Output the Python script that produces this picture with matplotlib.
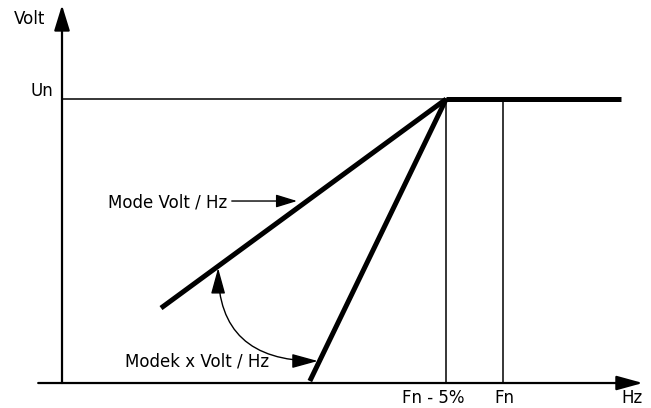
import matplotlib
matplotlib.use('Agg')
import numpy as np
from matplotlib import pyplot as plt

# schematic V/Hz curve, x in units of Fn, y in units of Un
Un = 1.0
Fn = 1.0
Fn_5 = 0.871
x_end = 1.268

# Mode Volt / Hz line
vhz_x = [0.2245, Fn_5]
vhz_y = [0.264, Un]
# Modek x Volt / Hz line
k_x = [0.562, Fn_5]
k_y = [0.007, Un]
# flat part above Fn-5%
flat_x = [Fn_5, x_end]
flat_y = [Un, Un]

tick_x = [0.841, 1.003, 1.292]
tick_lab = ['Fn - 5%', 'Fn', 'Hz']

fs = 12

fig = plt.figure(figsize=(6.51, 4.08), dpi=100)
ax = fig.add_axes([0, 0, 1, 1])
ax.set_xlim(-0.1406, 1.3356)
ax.set_ylim(-0.088, 1.349)
ax.axis('off')

# axes with arrows
ax.annotate('', xy=(1.317, 0), xytext=(-0.054, 0),
            arrowprops=dict(arrowstyle='-|>,head_length=0.8,head_width=0.22',
                            mutation_scale=20, lw=1.6, color='k', shrinkA=0, shrinkB=0))
ax.annotate('', xy=(0, 1.331), xytext=(0, 0),
            arrowprops=dict(arrowstyle='-|>,head_length=0.78,head_width=0.24',
                            mutation_scale=20, lw=1.6, color='k', shrinkA=0, shrinkB=0))

# thin guide lines
ax.plot([0, Fn_5], [Un, Un], color='k', lw=1.1)
ax.plot([Fn_5, Fn_5], [0, Un], color='k', lw=1.1)
ax.plot([Fn, Fn], [0, Un], color='k', lw=1.1)

# thick curves
ax.plot(vhz_x, vhz_y, color='k', lw=3.6, solid_capstyle='butt')
ax.plot(k_x, k_y, color='k', lw=3.6, solid_capstyle='butt')
ax.plot(flat_x, flat_y, color='k', lw=3.6, solid_capstyle='butt')

# labels
ax.text(-0.073, 1.283, 'Volt', fontsize=fs, ha='center', va='center')
ax.text(-0.045, 1.028, 'Un', fontsize=fs, ha='center', va='center')
for xv, lab in zip(tick_x, tick_lab):
    ax.text(xv, -0.053, lab, fontsize=fs, ha='center', va='center')

ax.text(0.104, 0.637, 'Mode Volt / Hz', fontsize=fs, ha='left', va='center')
ax.annotate('', xy=(0.533, 0.641), xytext=(0.385, 0.641),
            arrowprops=dict(arrowstyle='-|>,head_length=0.65,head_width=0.2',
                            mutation_scale=20, lw=1.0, color='k', shrinkA=0, shrinkB=0))

ax.text(0.47, 0.075, 'Modek x Volt / Hz', fontsize=fs, ha='right', va='center')
ax.annotate('', xy=(0.354, 0.405), xytext=(0.58, 0.0775),
            arrowprops=dict(arrowstyle='<|-|>,head_length=0.8,head_width=0.22',
                            mutation_scale=20, lw=1.0, color='k', shrinkA=0, shrinkB=0,
                            connectionstyle='angle3,angleA=0,angleB=90'))

fig.savefig('out.png', dpi=100)
